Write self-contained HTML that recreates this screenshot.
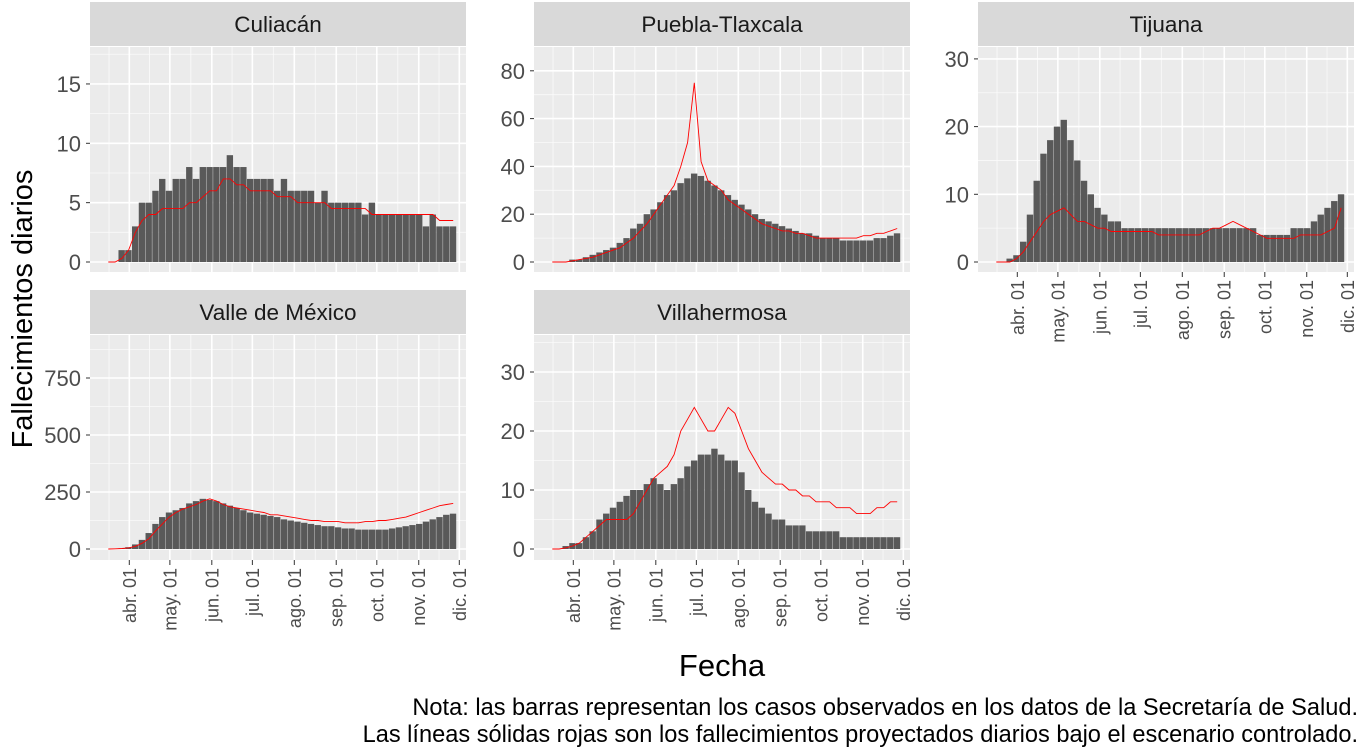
<!DOCTYPE html>
<html><head><meta charset="utf-8"><style>
body{margin:0;background:#fff;}
svg{display:block;font-family:"Liberation Sans",sans-serif;}
</style></head><body>
<svg id="chart" width="1364" height="748"></svg>
<script>
const binStartDays = -18; // bins start Mar 14 (days relative to Apr 1)
const binDays = 5;
const monthTickDays = [0,30,61,91,122,153,183,214,244];
const monthTickLabels = ["abr. 01","may. 01","jun. 01","jul. 01","ago. 01","sep. 01","oct. 01","nov. 01","dic. 01"];
const panelNames = ["Culiacán","Puebla-Tlaxcala","Tijuana","Valle de México","Villahermosa"];
const culiacanBars = [0,0,1,1,3,5,5,6,7,6,7,7,8,7,8,8,8,8,9,8,8,7,7,7,7,6,7,6,6,6,6,5,6,5,5,5,5,5,4,5,4,4,4,4,4,4,4,3,4,3,3,3];
const culiacanLine = [0,0,0.3,1,2.5,3.5,4,4,4.5,4.5,4.5,4.5,5,5,5.5,6,6,7,7,6.5,6.5,6,6,6,6,5.5,5.5,5.5,5,5,5,5,5,4.5,4.5,4.5,4.5,4.5,4.5,4,4,4,4,4,4,4,4,4,4,3.5,3.5,3.5];
const pueblaBars = [0,0,0,1,1,2,3,4,5,6,8,10,14,16,20,22,25,28,30,33,35,37,36,34,32,30,28,26,24,22,20,18,17,16,15,14,13,12,12,11,10,10,10,9,9,9,9,9,10,10,11,12];
const pueblaLine = [0,0,0,0.5,1,1.5,2,3,4,5,6,8,10,13,16,20,24,28,32,40,50,75,42,34,32,30,26,24,22,20,18,16,15,14,13,13,12,12,11,10,10,10,10,10,10,10,11,11,12,12,13,14];
const tijuanaBars = [0,0,0.5,1,3,7,12,16,18,20,21,18,15,12,10,8,7,6,6,5,5,5,5,5,5,5,5,5,5,5,5,5,5,5,5,5,5,5,5,4,4,4,4,4,5,5,5,6,7,8,9,10];
const tijuanaLine = [0,0,0,0.5,1.5,3,4.5,6,7,7.5,8,7,6,6,5.5,5,5,4.5,4.5,4.5,4.5,4.5,4.5,4.5,4,4,4,4,4,4,4,4.5,5,5,5.5,6,5.5,5,4.5,4,3.5,3.5,3.5,3.5,3.5,4,4,4,4,4.5,5,8];
const valleBars = [0,1,3,8,20,40,70,110,140,160,170,180,200,210,220,215,210,200,190,180,170,160,155,150,145,140,130,125,120,115,110,105,100,100,95,90,90,85,85,85,85,85,90,95,100,105,110,120,130,140,150,155];
const valleLine = [0,1,2,5,12,25,45,80,110,140,160,175,185,195,210,220,210,195,185,180,175,170,165,160,150,150,145,140,135,130,125,125,120,120,120,115,115,115,120,120,125,125,130,135,140,150,160,170,180,190,195,200];
const villaBars = [0,0,0.5,1,1,2,3,5,6,7,8,9,10,10,11,12,11,10,11,12,14,15,16,16,17,16,15,15,13,10,8,7,6,5,5,4,4,4,3,3,3,3,3,2,2,2,2,2,2,2,2,2];
const villaLine = [0,0,0.2,0.5,1,2,3,4,5,5,5,5,6,8,10,12,13,14,16,20,22,24,22,20,20,22,24,23,20,17,15,13,12,11,11,10,10,9,9,8,8,8,7,7,7,6,6,6,7,7,8,8];
const culiacanTicks=[0,5,10,15], pueblaTicks=[0,20,40,60,80], tijuanaTicks=[0,10,20,30], valleTicks=[0,250,500,750], villaTicks=[0,10,20,30];

const NS="http://www.w3.org/2000/svg";
const svg=document.getElementById('chart');
function mk(tag,attrs,parent){const e=document.createElementNS(NS,tag);for(const k in attrs)e.setAttribute(k,attrs[k]);(parent||svg).appendChild(e);return e;}

const panels=[
 {name:panelNames[0],x:90,top:2,y0:262,ppu:11.87,bars:culiacanBars,line:culiacanLine,ticks:culiacanTicks,xlab:false,slug:'culiacan'},
 {name:panelNames[1],x:534,top:2,y0:262,ppu:2.39,bars:pueblaBars,line:pueblaLine,ticks:pueblaTicks,xlab:false,slug:'puebla'},
 {name:panelNames[2],x:978,top:2,y0:262,ppu:6.77,bars:tijuanaBars,line:tijuanaLine,ticks:tijuanaTicks,xlab:true,slug:'tijuana'},
 {name:panelNames[3],x:90,top:290,y0:549,ppu:0.228,bars:valleBars,line:valleLine,ticks:valleTicks,xlab:true,slug:'valle'},
 {name:panelNames[4],x:534,top:290,y0:549,ppu:5.9,bars:villaBars,line:villaLine,ticks:villaTicks,xlab:true,slug:'villahermosa'}
];
const W=376, PXD=1.3525, X0=39.3;
panels.forEach(p=>{
  const g=mk('g',{});
  
  
  const sTop=p.top, pTop=p.top+45, pBot=p.top+270;
  const xs=d=>p.x+X0+d*PXD;
  const ys=v=>p.y0-v*p.ppu;
  const strip=mk('rect',{x:p.x,y:sTop,width:W,height:44,fill:'#d9d9d9'},g);
  
  
  const st=mk('text',{x:p.x+W/2,y:sTop+30,'text-anchor':'middle','font-size':22.5,fill:'#1a1a1a'},g);
  st.textContent=p.name;
  
  
  mk('rect',{x:p.x,y:pTop,width:W,height:pBot-pTop,fill:'#ebebeb'},g);
  for(let i=0;i<p.ticks.length-1;i++){const v=(p.ticks[i]+p.ticks[i+1])/2;mk('line',{x1:p.x,x2:p.x+W,y1:ys(v),y2:ys(v),stroke:'#fafafa','stroke-width':0.8},g);}
  const step=p.ticks[1]-p.ticks[0];
  if(ys(p.ticks[p.ticks.length-1]+step/2)>pTop){const v=p.ticks[p.ticks.length-1]+step/2;mk('line',{x1:p.x,x2:p.x+W,y1:ys(v),y2:ys(v),stroke:'#fafafa','stroke-width':0.8},g);}
  for(let i=-1;i<monthTickDays.length;i++){const d=i<0?-15:(monthTickDays[i]+(i+1<monthTickDays.length?monthTickDays[i+1]:monthTickDays[i]+30))/2;const xx=xs(d);if(xx>p.x&&xx<p.x+W)mk('line',{x1:xx,x2:xx,y1:pTop,y2:pBot,stroke:'#fafafa','stroke-width':0.8},g);}
  p.ticks.forEach(v=>mk('line',{x1:p.x,x2:p.x+W,y1:ys(v),y2:ys(v),stroke:'#fff','stroke-width':1.6},g));
  monthTickDays.forEach(d=>mk('line',{x1:xs(d),x2:xs(d),y1:pTop,y2:pBot,stroke:'#fff','stroke-width':1.6},g));
  p.bars.forEach((v,i)=>{const d=binStartDays+i*binDays;const b=mk('rect',{x:xs(d),y:ys(v),width:binDays*PXD-0.4,height:Math.max(0,v*p.ppu),fill:'#595959'},g);
    
    });
  const pts=p.line.map((v,i)=>xs(binStartDays+i*binDays+binDays/2).toFixed(1)+','+ys(v).toFixed(1)).join(' ');
  const pl=mk('polyline',{points:pts,fill:'none',stroke:'#ff0000','stroke-width':0.9},g);
  
  
  p.ticks.forEach(v=>{mk('line',{x1:p.x-4,x2:p.x,y1:ys(v),y2:ys(v),stroke:'#333','stroke-width':1},g);
    const t=mk('text',{x:p.x-9,y:ys(v)+8,'text-anchor':'end','font-size':22,fill:'#4d4d4d'},g);t.textContent=v;
    
    });
  if(p.xlab){monthTickDays.forEach((d,i)=>{mk('line',{x1:xs(d),x2:xs(d),y1:pBot,y2:pBot+5,stroke:'#333','stroke-width':1},g);
    const t=mk('text',{x:0,y:0,'text-anchor':'end','font-size':18,fill:'#4d4d4d',transform:`translate(${xs(d)+6.5},${pBot+8}) rotate(-90)`},g);t.textContent=monthTickLabels[i];
    
    });}
});
const yt=mk('text',{x:0,y:0,'text-anchor':'middle','font-size':29,fill:'#000',transform:'translate(32,309) rotate(-90)'});
yt.textContent='Fallecimientos diarios';


const xt=mk('text',{x:722,y:676,'text-anchor':'middle','font-size':31,fill:'#000'});
xt.textContent='Fecha';


const n1=mk('text',{x:1358,y:715,'text-anchor':'end','font-size':23.6,fill:'#000'});
n1.textContent='Nota: las barras representan los casos observados en los datos de la Secretaría de Salud.';


const n2=mk('text',{x:1358,y:742,'text-anchor':'end','font-size':23.6,fill:'#000'});
n2.textContent='Las líneas sólidas rojas son los fallecimientos proyectados diarios bajo el escenario controlado.';


</script>
</body></html>
